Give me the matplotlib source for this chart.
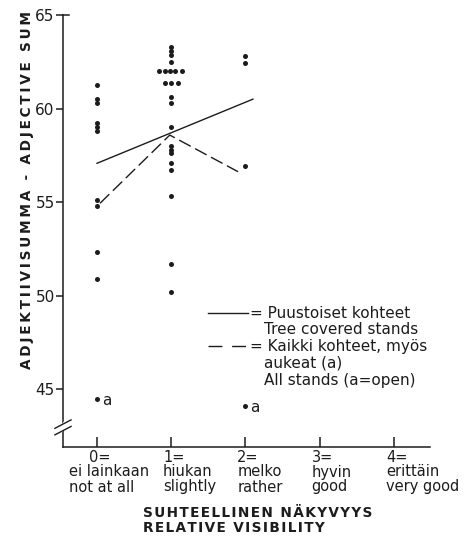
import matplotlib
matplotlib.use("Agg")
import matplotlib.pyplot as plt
from matplotlib.lines import Line2D
from matplotlib.transforms import blended_transform_factory

plt.rcParams['font.family'] = ['DejaVu Sans']

# Relative visibility class (x) and adjective sum (y) of each stand
tree_x = [0, 0, 0, 0, 0, 0, 0, 0, 0, 0,
          1, 1, 1, 1,
          0.84, 0.91, 0.98, 1.05, 1.14,
          0.91, 1.0, 1.09,
          1, 1, 1, 1, 1, 1, 1, 1, 1, 1, 1,
          2, 2, 2]
tree_y = [61.25, 60.5, 60.3, 59.2, 59.0, 58.8, 55.1, 54.8, 52.35, 50.9,
          63.3, 63.1, 62.85, 62.5,
          62.02, 62.02, 62.02, 62.02, 62.02,
          61.38, 61.38, 61.38,
          60.62, 60.3, 58.99, 58.0, 57.8, 57.6, 57.1, 56.7, 55.33, 51.7, 50.17,
          62.8, 62.43, 56.93]

# Open stands (a)
open_x = [0, 2]
open_y = [44.45, 44.1]

# Trend for tree covered stands and for all stands
tree_line_x = [0, 2.1]
tree_line_y = [57.07, 60.5]
all_line_x = [0.04, 0.98, 1.9]
all_line_y = [54.93, 58.58, 56.62]

class_numbers = ["0=", "1=", "2=", "3=", "4="]
class_fi = ["ei lainkaan", "hiukan", "melko", "hyvin", "erittäin"]
class_en = ["not at all", "slightly", "rather", "good", "very good"]
y_ticks = [45, 50, 55, 60, 65]

W, H = 474, 538
fig = plt.figure(figsize=(W / 100, H / 100), dpi=100)
ax = fig.add_axes([63 / W, 1 - 447 / H, (430 - 63) / W, (447 - 15) / H])

ink = "#1c1c1c"
ax.plot(tree_x, tree_y, 'o', color=ink, markersize=3.6, markeredgewidth=0)
ax.plot(open_x, open_y, 'o', color=ink, markersize=3.6, markeredgewidth=0)
for x, y in zip(open_x, open_y):
    ax.annotate("a", (x, y), xytext=(3.5, -1), textcoords="offset points",
                ha="left", va="center", fontsize=11, color=ink)

ax.plot(tree_line_x, tree_line_y, '-', color=ink, lw=1.0)
ax.plot(all_line_x, all_line_y, color=ink, lw=1.0, linestyle=(0, (9.4, 3.6)))

ax.set_xlim(-0.458, 4.485)
ax.set_ylim(41.9, 65)
for s in ("top", "right"):
    ax.spines[s].set_visible(False)
for s in ("left", "bottom"):
    ax.spines[s].set_linewidth(1.1)
    ax.spines[s].set_color(ink)

ax.set_yticks(y_ticks)
ax.set_yticklabels([str(v) for v in y_ticks])
ax.tick_params(axis="y", direction="out", length=5, width=1.1, pad=1,
               labelsize=11, colors=ink)
ax.set_xticks(range(len(class_numbers)))
ax.set_xticklabels([])
ax.tick_params(axis="x", direction="in", length=7, width=1.1, colors=ink)

# Short cap at the top of the value axis
ax.add_line(Line2D([0, 0.016], [65, 65], transform=blended_transform_factory(
    ax.transAxes, ax.transData), color=ink, lw=1.1, clip_on=False))

# Axis break marks on the value axis
bt = blended_transform_factory(ax.transAxes, ax.transData)
ax.add_line(Line2D([-0.008, 0.008], [42.75, 43.2], transform=bt, color="white",
                   lw=3.5, clip_on=False, zorder=4))
for dy in (0.0, 0.35):
    ax.add_line(Line2D([-0.022, 0.022], [42.55 + dy, 43.0 + dy], transform=bt,
                       color=ink, lw=1.0, clip_on=False, zorder=5))

# Category labels under the x axis
ct = blended_transform_factory(ax.transData, fig.transFigure)
word_shift = [-0.38, -0.11, -0.11, -0.11, -0.11]
for i, (n, fi, en) in enumerate(zip(class_numbers, class_fi, class_en)):
    ax.text(i - 0.11, 1 - 457 / H, n, transform=ct, ha="left", va="center",
            fontsize=10.5, color=ink)
    ax.text(i + word_shift[i], 1 - 472 / H, fi, transform=ct, ha="left",
            va="center", fontsize=10.5, color=ink)
    ax.text(i + word_shift[i], 1 - 487 / H, en, transform=ct, ha="left",
            va="center", fontsize=10.5, color=ink)

# Axis titles
spaced = lambda s: "\u200a".join(s)
fig.text(143 / W, 1 - 513 / H, spaced("SUHTEELLINEN NÄKYVYYS"), ha="left",
         va="center", fontsize=9.8, fontweight="bold", color=ink)
fig.text(143 / W, 1 - 528 / H, spaced("RELATIVE VISIBILITY"), ha="left",
         va="center", fontsize=9.8, fontweight="bold", color=ink)
fig.text(27 / W, 1 - 190 / H, "\u2009".join("ADJEKTIIVISUMMA - ADJECTIVE SUM"),
         rotation=90, ha="center", va="center", fontsize=9.8,
         fontweight="bold", color=ink)

# Key
fig.add_artist(Line2D([208 / W, 248 / W], [1 - 313 / H] * 2, color=ink, lw=1.0))
fig.add_artist(Line2D([208 / W, 247 / W], [1 - 346 / H] * 2, color=ink, lw=1.0,
                      linestyle=(0, (10, 7))))
key_lines = [("= Puustoiset kohteet", 250, 313),
             ("Tree covered stands", 264, 330),
             ("= Kaikki kohteet, myös", 250, 346),
             ("aukeat (a)", 264, 363),
             ("All stands (a=open)", 264, 380)]
for txt, x, y in key_lines:
    fig.text(x / W, 1 - y / H, txt, ha="left", va="center", fontsize=11,
             color=ink)

fig.savefig("out.png", dpi=100, facecolor="white")
